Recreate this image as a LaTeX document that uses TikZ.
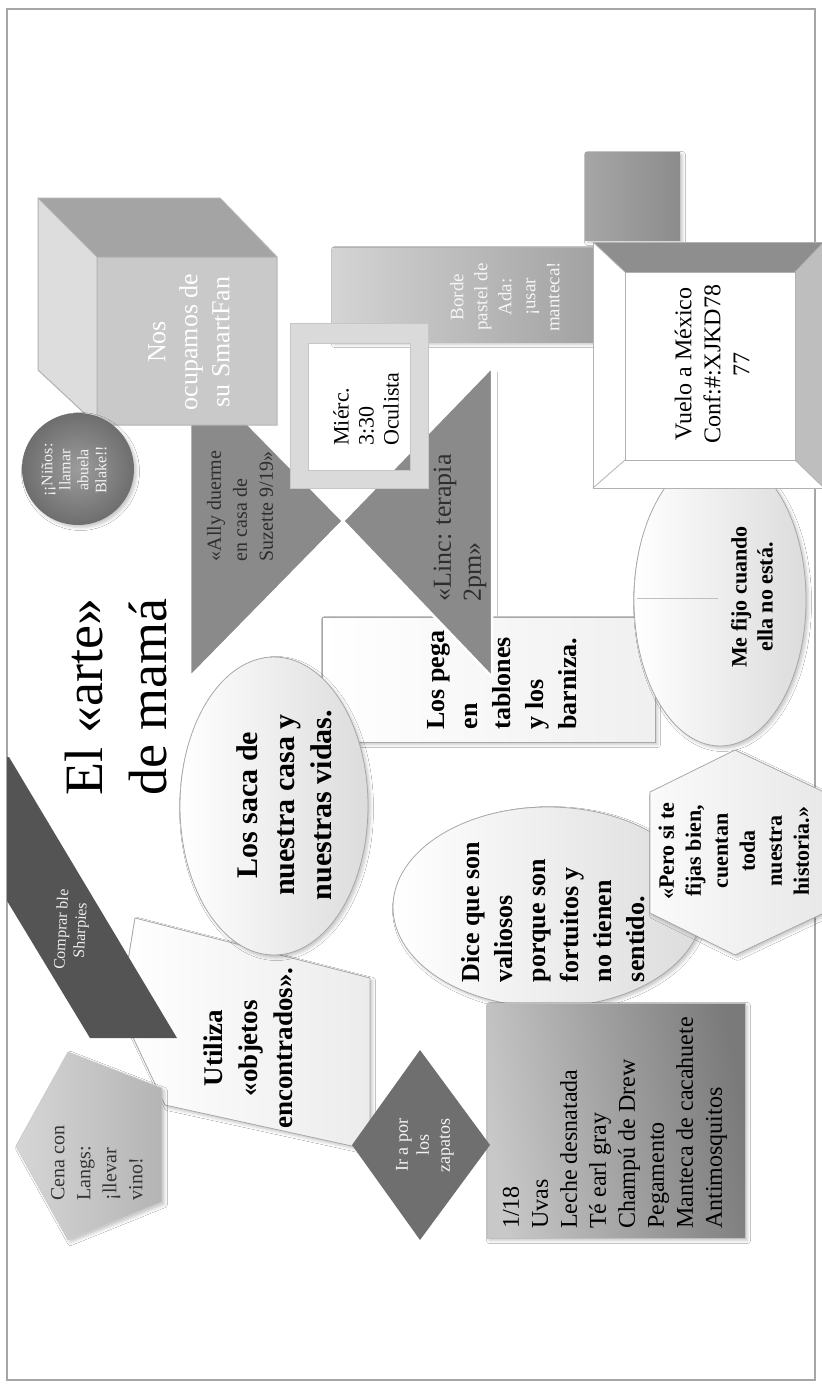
\documentclass[tikz,border=0pt]{standalone}
\usepackage{fontspec}
\setmainfont{Liberation Serif}
\usetikzlibrary{shapes.geometric,shadows.blur}
\definecolor{cubefront}{HTML}{C9C9C9}
\definecolor{cubetop}{HTML}{A4A4A4}
\definecolor{cubeside}{HTML}{DDDDDD}
\definecolor{trifill}{HTML}{8A8A8A}
\definecolor{trtext}{HTML}{2E2E2E}
\definecolor{mframe}{HTML}{DADADA}
\definecolor{bordL}{HTML}{D4D4D4}
\definecolor{bordR}{HTML}{A2A2A2}
\definecolor{dkL}{HTML}{A6A6A6}
\definecolor{dkR}{HTML}{8C8C8C}
\definecolor{bevtop}{HTML}{8E8E8E}
\definecolor{bevright}{HTML}{BEBEBE}
\definecolor{ballin}{HTML}{9C9C9C}
\definecolor{ballout}{HTML}{6E6E6E}
\definecolor{softR}{HTML}{DCDCDC}
\definecolor{comprar}{HTML}{545454}
\definecolor{cenaL}{HTML}{D6D6D6}
\definecolor{cenaR}{HTML}{B4B4B4}
\definecolor{rombo}{HTML}{6F6F6F}
\definecolor{listL}{HTML}{C8C8C8}
\definecolor{listR}{HTML}{7A7A7A}
\definecolor{lightline}{HTML}{A8A8A8}
\newcommand\setfs[2]{\fontsize{#1}{#2}\selectfont}
\tikzset{
  lbl/.style={rotate=90, inner sep=0pt, align=center, text=black},
  lblL/.style={lbl, align=left},
  outline/.style={draw=lightline, line width=0.8pt},
  soft shadow/.style={blur shadow={shadow xshift=2.5pt, shadow yshift=-2.5pt, shadow opacity=22, shadow blur radius=3pt}},
  softshape/.style={left color=white, right color=softR, outline, soft shadow},
}
\begin{document}
\begin{tikzpicture}[x=1pt,y=-1pt]
\useasboundingbox (0,0) rectangle (822,1385);
\fill[white] (0,0) rectangle (822,1385);
% slide edge
\draw[gray!70, line width=1.2pt] (7,9) rectangle (815,1380);

% upper right blocks
\shade[left color=dkL, right color=dkR, soft shadow] (585,152) rectangle (680,240);
\shade[left color=bordL, right color=bordR, soft shadow] (332,247) rectangle (593,342);
\draw[gray!60, line width=1pt] (332,247) -- (593,247);

% bowtie, first half (behind the cube)
\filldraw[fill=trifill, draw=white, line width=2.5pt] (190,365) -- (343,521) -- (190,677) -- cycle;

% cube
\fill[cubeside] (38,198) -- (97,257) -- (97,425) -- (38,370) -- cycle;
\fill[cubetop] (38,198) -- (220,198) -- (277,257) -- (97,257) -- cycle;
\fill[cubefront] (97,257) rectangle (277,425);
\draw[gray!60, line width=1pt] (38,198) -- (220,198) -- (277,257) -- (277,425) -- (97,425) -- (38,370) -- cycle;
\draw[gray!60, line width=1pt] (38,198) -- (97,257) -- (277,257) (97,257) -- (97,425);

% round note
\shade[inner color=ballin, outer color=ballout, soft shadow] (78,469) circle (56);

% plank box and second half of the bowtie
\shade[left color=white, right color=gray!12, outline, soft shadow] (322,617) rectangle (655,742);
\filldraw[fill=trifill, draw=white, line width=2.5pt] (492,367) -- (343,521) -- (492,677) -- cycle;
\draw[gray!45, line width=1pt] (497,372) -- (497,617);

% eye doctor frame (open in the middle)
\fill[mframe, even odd rule] (290,323) rectangle (428,488) (308,343) rectangle (410,470);
\draw[gray!45, line width=0.8pt] (290,323) rectangle (428,488);
\draw[gray!45, line width=0.8pt] (308,343) rectangle (410,470);

% ellipse on the right, partly under the flight box
\shadedraw[softshape] (720,600) ellipse [x radius=86, y radius=146];
\draw[gray!50, line width=1pt] (637,598) -- (718,598);

% flight box with bevel
\fill[white] (593,242) rectangle (824,488);
\fill[bevtop] (593,242) -- (824,242) -- (795,272) -- (625,272) -- cycle;
\fill[bevright] (824,242) -- (824,488) -- (795,460) -- (795,272) -- cycle;
\draw[gray!60, line width=0.8pt] (593,242) rectangle (824,488) (625,272) rectangle (795,460);
\draw[gray!60, line width=0.8pt] (593,242) -- (625,272) (824,242) -- (795,272) (593,488) -- (625,460) (824,488) -- (795,460);

% lower left group
\shadedraw[left color=white, right color=gray!15, outline, soft shadow] (135,918) -- (370,978) -- (370,1150) -- (165,1105) -- (120,1010) -- cycle;
\begin{scope}
  \clip (7,9) rectangle (815,1380);
  \fill[comprar] (9,757) -- (177,1038) -- (90,1038) -- (-80,757) -- cycle;
\end{scope}
\shadedraw[left color=cenaL, right color=cenaR, draw=gray!40, line width=0.8pt, soft shadow] (68,1052) -- (162,1088) -- (162,1202) -- (68,1240) -- (16,1146) -- cycle;

% big ellipse next to the title
\shadedraw[softshape] (274,806) ellipse [x radius=94, y radius=149];

% lower middle group
\shadedraw[softshape] (548,907) ellipse [x radius=155, y radius=100];
\shadedraw[left color=gray!4, right color=gray!18, outline, soft shadow] (650,792) -- (735,750) -- (824,792) -- (824,913) -- (735,955) -- (650,913) -- cycle;
\shade[left color=listL, right color=listR, shading angle=100, soft shadow] (487,1003) rectangle (745,1238);
\draw[gray!50, line width=0.6pt] (487,1003) rectangle (745,1238);
\fill[rombo] (420,1050) -- (490,1145) -- (420,1240) -- (352,1145) -- cycle;

% texts
\node[lbl, text=white, font=\setfs{26}{32}] (tcube) at (189,342) {Nos\\ocupamos de\\su SmartFan};
\node[lbl, text=white!90!gray, font=\setfs{16}{18}] (tball) at (74,470) {¡¡Niños:\\llamar\\abuela\\Blake!!};
\node[lblL, text=trtext, font=\setfs{20}{26}] (tally) at (240,506) {«Ally duerme\\en casa de\\Suzette 9/19»};
\node[lblL, text=trtext, font=\setfs{26}{30}] (tlinc) at (460,528) {«Linc: terapia\\2pm»};
\node[lblL, font=\setfs{22}{25}] (tocul) at (366,409) {Miérc.\\3:30\\Oculista};
\node[lbl, text=white!92!gray, font=\setfs{19}{24}] (tbord) at (505,297) {Borde\\pastel de\\Ada:\\¡usar\\manteca!};
\node[lbl, font=\setfs{24}{29}] (tvuelo) at (712,364) {Vuelo a México\\Conf:\#:XJKD78\\77};
\node[lbl, font=\setfs{54}{64}] (ttitle) at (116,697) {El «arte»\\de mamá};
\node[lbl, font=\bfseries\setfs{30}{37}] (tsaca) at (284,805) {Los saca de\\nuestra casa y\\nuestras vidas.};
\node[lblL, font=\bfseries\setfs{26}{33}] (tpega) at (502,680) {Los pega\\en\\tablones\\y los\\barniza.};
\node[lbl, font=\bfseries\setfs{22}{26}] (tfijo) at (752,597) {Me fijo cuando\\ella no está.};
\node[lblL, font=\bfseries\setfs{26}{33}] (tdice) at (553,912) {Dice que son\\valiosos\\porque son\\fortuitos y\\no tienen\\sentido.};
\node[lbl, font=\bfseries\setfs{22}{27}] (tpero) at (734,851) {«Pero si te\\fijas bien,\\cuentan\\toda\\nuestra\\historia.»};
\node[lbl, font=\bfseries\setfs{27}{35}] (tutil) at (248,1048) {Utiliza\\«objetos\\encontrados».};
\node[lbl, rotate=-3, text=white!88!gray, font=\setfs{16}{19}] (tcompr) at (72,930) {Comprar ble\\Sharpies};
\node[lblL, text=black!80, font=\setfs{20}{26}] (tcena) at (97,1163) {Cena con\\Langs:\\¡llevar\\vino!};
\node[lbl, text=white!92!gray, font=\setfs{18}{21}] (tzap) at (425,1145) {Ir a por\\los\\zapatos};
\node[lblL, font=\setfs{24}{29}] (tlist) at (615,1123) {1/18\\Uvas\\Leche desnatada\\Té earl gray\\Champú de Drew\\Pegamento\\Manteca de cacahuete\\Antimosquitos};
\end{tikzpicture}
\end{document}
